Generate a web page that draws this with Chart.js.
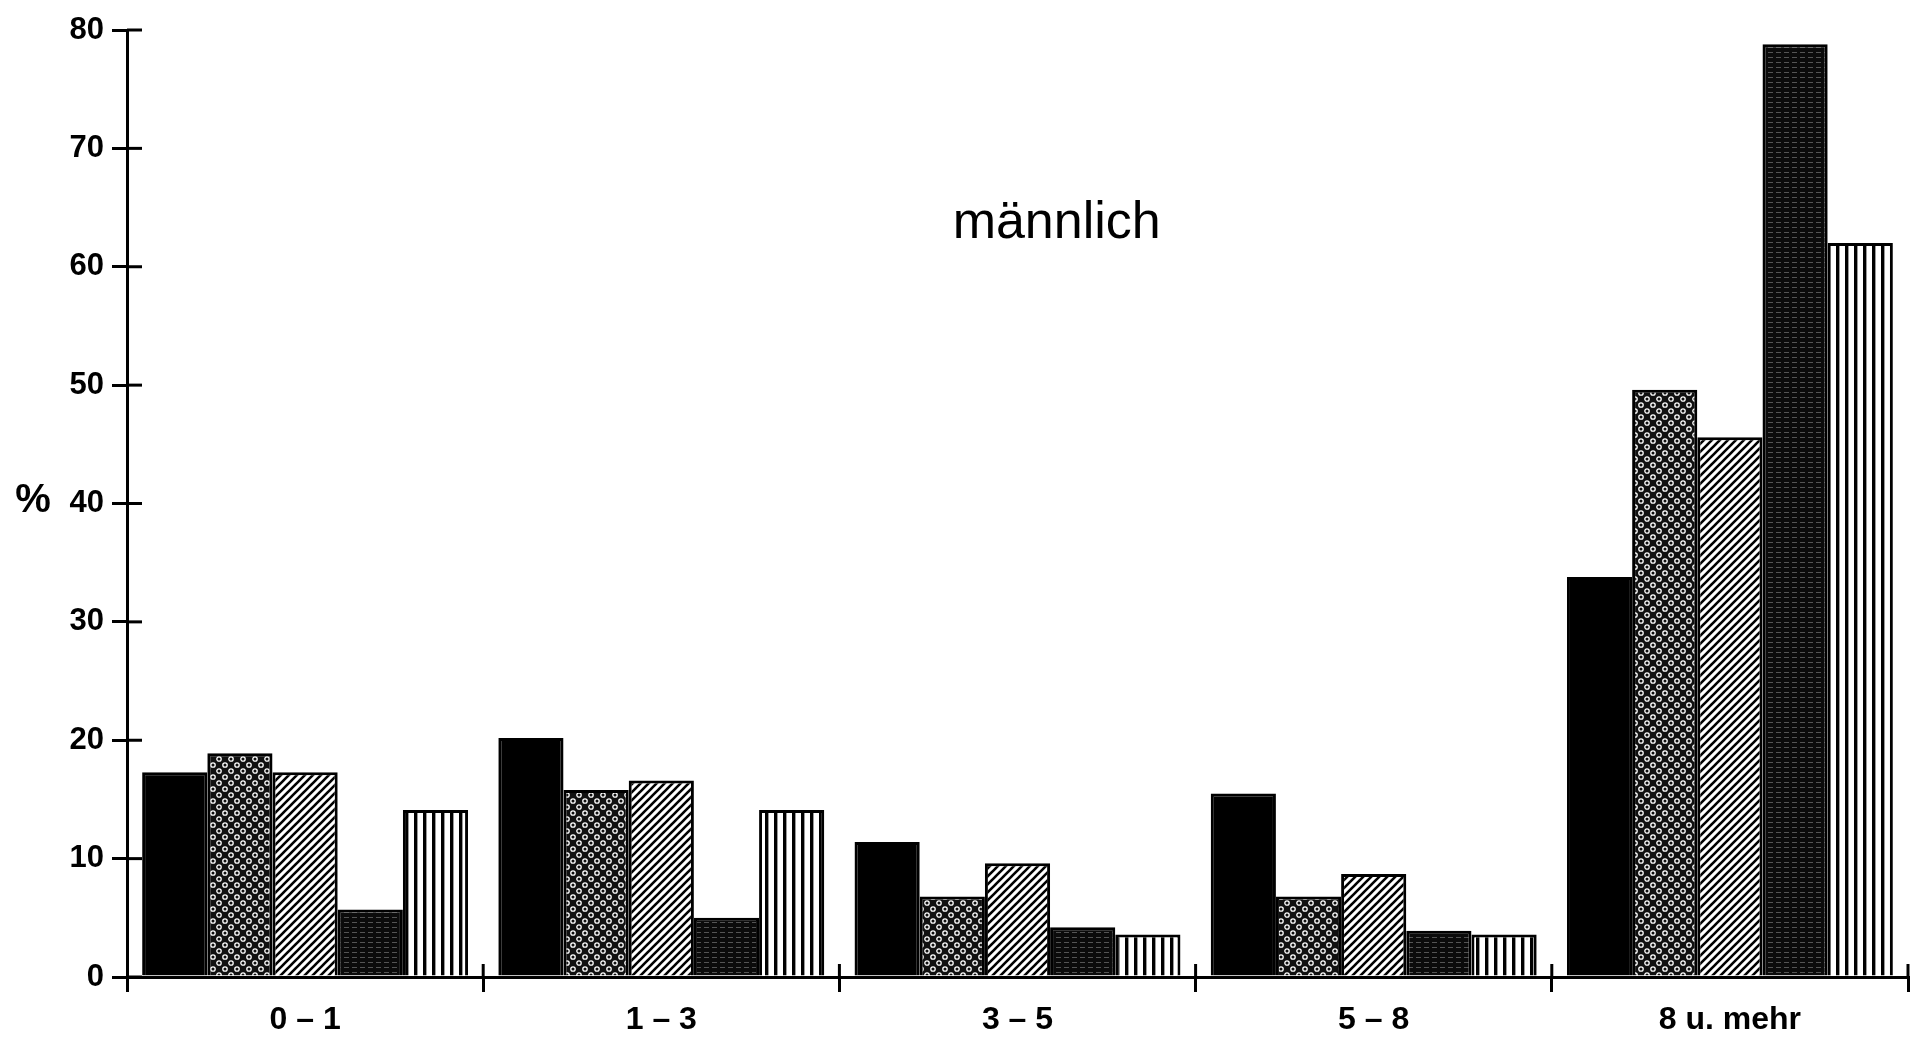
<!DOCTYPE html>
<html>
<head>
<meta charset="utf-8">
<script src="https://cdn.jsdelivr.net/npm/chart.js@4.4.0/dist/chart.umd.min.js"></script>
<style>
  html, body { margin: 0; padding: 0; background: #ffffff; }
  #wrap { width: 1913px; height: 1049px; }
</style>
</head>
<body>
<div id="wrap"><canvas id="c" width="1913" height="1049"></canvas></div>
<script>
// ---- data ----
const categories = ['0 – 1', '1 – 3', '3 – 5', '5 – 8', '8 u. mehr'];
const seriesA = [17.3, 20.2, 11.4, 15.5, 33.8];   // solid black
const seriesB = [18.9, 15.8, 6.8, 6.8, 49.6];     // ring dots
const seriesC = [17.3, 16.6, 9.6, 8.7, 45.6];     // diagonal hatch
const seriesD = [5.7, 5.0, 4.2, 3.9, 78.8];       // dark horizontal texture
const seriesE = [14.1, 14.1, 3.6, 3.6, 62.0];     // vertical stripes
const yTicks = [0, 10, 20, 30, 40, 50, 60, 70, 80];
const panelLabel = 'männlich';
const yUnit = '%';

// ---- fill patterns ----
function pattern(w, h, draw) {
  const c = document.createElement('canvas');
  c.width = w; c.height = h;
  const g = c.getContext('2d');
  draw(g, w, h);
  return document.getElementById('c').getContext('2d').createPattern(c, 'repeat');
}
const patRings = pattern(12, 12, (g, w, h) => {
  g.fillStyle = '#111111'; g.fillRect(0, 0, w, h);
  g.strokeStyle = '#ffffff'; g.lineWidth = 1.3;
  [[3, 3], [9, 9]].forEach(([x, y]) => { g.beginPath(); g.arc(x, y, 2.2, 0, Math.PI * 2); g.stroke(); });
});
const patHatch = pattern(8, 8, (g, w, h) => {
  g.fillStyle = '#ffffff'; g.fillRect(0, 0, w, h);
  g.strokeStyle = '#000000'; g.lineWidth = 2.6;
  [[0, h, w, 0], [-w / 2, h / 2, w / 2, -h / 2], [w / 2, h * 1.5, w * 1.5, h / 2]].forEach(([a, b, c2, d]) => {
    g.beginPath(); g.moveTo(a, b); g.lineTo(c2, d); g.stroke();
  });
});
const patDark = pattern(8, 5, (g, w, h) => {
  g.fillStyle = '#0b0b0b'; g.fillRect(0, 0, w, h);
  g.fillStyle = 'rgba(255,255,255,0.3)'; g.fillRect(0, 2, 5, 1);
});
const patStripes = pattern(9, 4, (g, w, h) => {
  g.fillStyle = '#ffffff'; g.fillRect(0, 0, w, h);
  g.fillStyle = '#000000'; g.fillRect(0, 0, 3.4, h);
});

const fills = ['#000000', patRings, patHatch, patDark, patStripes];
const allSeries = [seriesA, seriesB, seriesC, seriesD, seriesE];

// ---- plugin: crossing ticks, panel label, unit label ----
const extras = {
  id: 'extras',
  afterDraw(chart) {
    const ctx = chart.ctx;
    const x = chart.scales.x, y = chart.scales.y;
    const area = chart.chartArea;
    ctx.save();
    ctx.strokeStyle = '#000'; ctx.lineWidth = 3;
    // inner halves of the y ticks
    yTicks.forEach(v => {
      const py = y.getPixelForValue(v);
      ctx.beginPath(); ctx.moveTo(area.left, py); ctx.lineTo(area.left + 15, py); ctx.stroke();
    });
    // upper halves of x boundary ticks
    const step = x.getPixelForValue(1) - x.getPixelForValue(0);
    for (let i = 1; i <= categories.length; i++) {
      const px = x.getPixelForValue(i - 1) + step / 2;
      ctx.beginPath(); ctx.moveTo(px, area.bottom); ctx.lineTo(px, area.bottom - 13); ctx.stroke();
    }
    // panel label
    ctx.fillStyle = '#000';
    ctx.font = '52px "Liberation Sans", Arial, sans-serif';
    ctx.textAlign = 'center'; ctx.textBaseline = 'middle';
    ctx.fillText(panelLabel, area.left + (area.right - area.left) * 0.522, y.getPixelForValue(63.6));
    // unit label
    ctx.font = 'bold 40px "Liberation Sans", Arial, sans-serif';
    ctx.fillText(yUnit, 33, y.getPixelForValue(40.2));
    ctx.restore();
  }
};

new Chart(document.getElementById('c'), {
  type: 'bar',
  data: {
    labels: categories,
    datasets: allSeries.map((s, i) => ({
      label: 'S' + (i + 1),
      data: s,
      backgroundColor: fills[i],
      borderColor: '#000000',
      borderWidth: 3,
      categoryPercentage: 0.915,
      barPercentage: 1.0
    }))
  },
  options: {
    responsive: false,
    animation: false,
    devicePixelRatio: 1,
    layout: { padding: { left: 0, right: 5, top: 30, bottom: 0 } },
    plugins: { legend: { display: false }, tooltip: { enabled: false }, title: { display: false } },
    scales: {
      x: {
        offset: true,
        grid: { offset: true, drawOnChartArea: false, drawTicks: true, tickLength: 15, color: '#000', lineWidth: 3 },
        border: { display: true, color: '#000', width: 3 },
        ticks: { color: '#000', padding: 9, maxRotation: 0, font: { family: '"Liberation Sans", Arial, sans-serif', size: 32, weight: 'bold' } },
        afterFit(scale) { scale.height = 72; }
      },
      y: {
        min: 0, max: 80,
        afterBuildTicks(scale) { scale.ticks = yTicks.map(v => ({ value: v })); },
        grid: { drawOnChartArea: false, drawTicks: true, tickLength: 15, color: '#000', lineWidth: 3 },
        border: { display: true, color: '#000', width: 3 },
        ticks: { color: '#000', padding: 8, font: { family: '"Liberation Sans", Arial, sans-serif', size: 31, weight: 'bold' } },
        afterFit(scale) { scale.width = 127; }
      }
    }
  },
  plugins: [extras]
});
</script>
</body>
</html>
